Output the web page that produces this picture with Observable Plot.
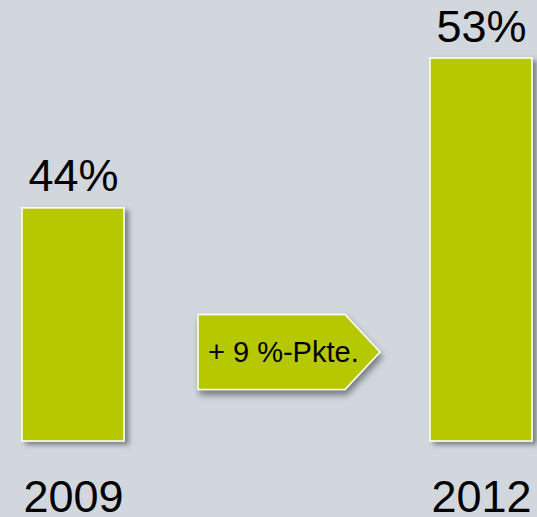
<!DOCTYPE html>
<html><head><meta charset="utf-8">
<script src="https://cdn.jsdelivr.net/npm/d3@7"></script>
<script src="https://cdn.jsdelivr.net/npm/@observablehq/plot@0.6"></script>
<style>
html,body{margin:0;padding:0;background:#d1d7dc;overflow:hidden;}
</style></head><body><div id="chart"></div>
<script>
const years = ["2009", "2012"];
const shares = [44, 53];
const shareLabels = ["44%", "53%"];
const changeLabel = "+ 9 %-Pkte.";
const axisFloor = 30;
const axisTop = 53;

const data = years.map((y, i) => ({year: y, value: shares[i], label: shareLabels[i]}));

const green = "#b5c800";

function withShadow(index, scales, values, dims, context, next) {
  const g = next(index, scales, values, dims, context);
  g.setAttribute("filter", "url(#dropShadow)");
  return g;
}

function arrowMark(index, scales, values, dims, context) {
  const x = scales.x, y = scales.y;
  const bw = (scales.scales && scales.scales.x && scales.scales.x.bandwidth) || (x.bandwidth ? x.bandwidth() : 102);
  const left = x(years[0]) + bw + 74;
  const tip = x(years[1]) - 50;
  const bodyRight = tip - 35;
  const cy = y(axisFloor) - 89;
  const half = 37.5;
  const g = d3.create("svg:g");
  g.append("path")
    .attr("d", `M${left},${cy - half}L${bodyRight},${cy - half}L${tip},${cy}L${bodyRight},${cy + half}L${left},${cy + half}Z`)
    .attr("fill", green)
    .attr("stroke", "white")
    .attr("stroke-width", 1.5)
    .attr("filter", "url(#dropShadow2)");
  g.append("text")
    .attr("x", left + 10)
    .attr("y", cy + 10)
    .attr("font-size", 29)
    .attr("text-anchor", "start")
    .attr("fill", "black")
    .text(changeLabel);
  return g.node();
}

const plot = Plot.plot({
  width: 537,
  height: 517,
  marginLeft: 0,
  marginRight: 0,
  marginTop: 58,
  marginBottom: 76,
  style: {background: "#d1d7dc", fontFamily: "'Liberation Sans', Arial, sans-serif", overflow: "visible"},
  x: {type: "band", domain: years, range: [22, 532], paddingInner: 0.75, paddingOuter: 0, align: 0},
  y: {domain: [axisFloor, axisTop], axis: null},
  marks: [
    Plot.barY(data, {x: "year", y1: () => axisFloor, y2: "value", fill: green, stroke: "white", strokeWidth: 1.5, render: withShadow}),
    Plot.text(data, {x: "year", y: "value", text: "label", dy: -17, lineAnchor: "bottom", fontSize: 45, fill: "black"}),
    Plot.axisX({tickSize: 0, tickPadding: 39, fontSize: 45, label: null, fill: "black"}),
    arrowMark
  ]
});

d3.select(plot).insert("defs", ":first-child").html(`
  <filter id="dropShadow" x="-20%" y="-20%" width="150%" height="150%">
    <feDropShadow dx="4" dy="3" stdDeviation="2.5" flood-color="#4a4f55" flood-opacity="0.65"/>
  </filter>
  <filter id="dropShadow2" x="-20%" y="-20%" width="150%" height="160%">
    <feDropShadow dx="2" dy="5" stdDeviation="3" flood-color="#4a4f55" flood-opacity="0.65"/>
  </filter>`);

document.getElementById("chart").appendChild(plot);
</script>
</body></html>
